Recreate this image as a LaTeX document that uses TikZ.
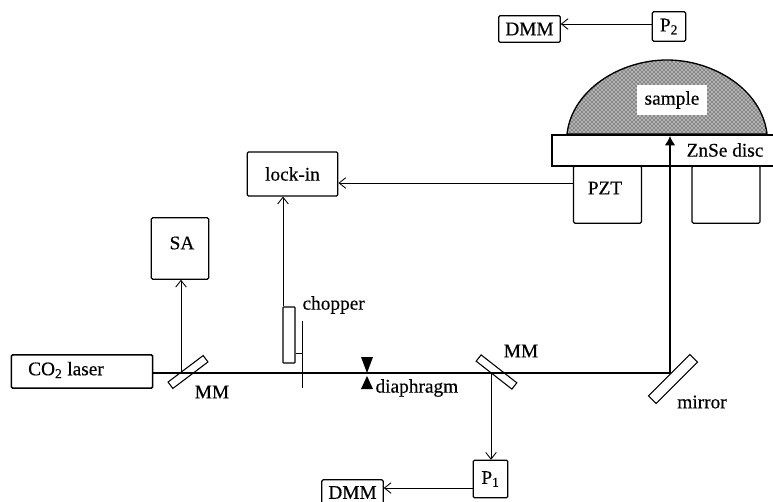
\documentclass[tikz,border=0pt]{standalone}
\usepackage{fontspec}
\setmainfont[FakeBold=0.4]{Liberation Serif}
\usetikzlibrary{patterns, arrows.meta}

\begin{document}
\begin{tikzpicture}[x=0.75pt, y=-0.75pt, >={Straight Barb[length=5pt, width=8pt]}, thick,
    every node/.style={font=\fontsize{14.5}{16}\selectfont},
    instr/.style={draw, rectangle, rounded corners=1pt, inner sep=0pt, line width=0.9pt},
    optic/.style={draw, rectangle, inner sep=0pt, minimum height=6pt},
    signal/.style={->, line width=0.65pt},
    beam/.style={line width=1.2pt}]
    \useasboundingbox (0,0) rectangle (773,502);

    % Sample dome
    \draw[preaction={fill=black!30}, pattern=crosshatch dots, line width=1pt] (567,134) .. controls (572,90) and (620,60) .. (667,60) .. controls (714,60) and (762,90) .. (767,134) -- cycle;
    \node[fill=white, minimum width=52pt, minimum height=22pt, inner sep=0pt] (sample) at (672,100) {sample};

    % ZnSe disc, open towards the right edge
    \draw[line width=1pt] (773,135) -- (552,135) -- (552,166) -- (773,166);
    \node (disc) at (725,150) {ZnSe disc};

    % PZT and its counterpart
    \node[instr, minimum width=51pt, minimum height=43pt] (pzt) at (607.5,194.5) {};
    \node (pzttext) at (605,188) {PZT};
    \node[instr, minimum width=51pt, minimum height=43pt] (support) at (726,194.5) {};

    % Detectors and meters
    \node[instr, minimum width=46pt, minimum height=20pt] (dmmtop) at (529.5,29) {DMM};
    \node[instr, minimum width=25pt, minimum height=22pt] (ptwo) at (669,26.5) {P\textsubscript{2}};
    \node[instr, minimum width=26pt, minimum height=28pt] (pone) at (490.5,479) {P\textsubscript{1}};
    \node[instr, minimum width=46pt, minimum height=19pt] (dmmlow) at (352.5,492.5) {DMM};

    % Instruments
    \node[instr, minimum width=43pt, minimum height=46pt] (sa) at (180,248.5) {};
    \node (satext) at (182,243) {SA};
    \node[instr, minimum width=68pt, minimum height=33pt] (lockin) at (292.5,174) {lock-in};
    \node[instr, minimum width=106pt, minimum height=25pt, line width=1.1pt] (laser) at (82,371.5) {};
    \node (lasertext) at (66,370) {CO\textsubscript{2} laser};

    % Beam splitters and mirror
    \node[optic, minimum width=33pt, rotate=37] (mmone) at (188,372) {};
    \node[optic, minimum width=34pt, rotate=-38] (mmtwo) at (496.5,372) {};
    \node[optic, minimum width=44pt, minimum height=8pt, rotate=45] (mirror) at (673,379) {};
    \node (mmonetext) at (212,392) {MM};
    \node (mmtwotext) at (521,351) {MM};
    \node (mirrortext) at (702,402) {mirror};

    % Chopper
    \node[draw, rectangle, rounded corners=0.5pt, inner sep=0pt, minimum width=9pt, minimum height=42pt] (blade) at (289,335) {};
    \coordinate (posttop) at (302,321);
    \coordinate (postlow) at (302,388);
    \draw[line width=0.6pt] (posttop) -- (postlow);
    \draw[line width=0.6pt] (blade.east |- 0,353) -- (302,353);
    \node[anchor=west, inner sep=0pt] (choppertext) at (302,305) {chopper};

    % Diaphragm
    \coordinate (irisA) at (367,373);
    \coordinate (irisB) at (367,376);
    \fill (irisA) -- (361,357) -- (373,357) -- cycle;
    \fill (irisB) -- (361,389) -- (373,389) -- cycle;
    \node[anchor=west, inner sep=0pt] (diaphragmtext) at (375,388) {diaphragm};

    % Main beam
    \coordinate (turn) at (670,373);
    \draw[line width=0.8pt] (laser.east |- turn) -- (302,373);
    \draw[beam] (302,373) -- (turn);
    \draw[beam, -{Latex[length=7pt, width=8pt]}] (turn) -- (670,136);

    % Signals
    \draw[signal] (181,373) -- (sa.south -| 181,0);
    \draw[signal] (blade.north -| 283,0) -- (lockin.south -| 283,0);
    \draw[signal] (pzt.west |- 0,183) -- (lockin.east |- 0,183);
    \draw[signal] (ptwo.west |- 0,24) -- (dmmtop.east |- 0,24);
    \draw[signal] (491,373) -- (pone.north -| 491,0);
    \draw[signal] (pone.west |- 0,488) -- (dmmlow.east |- 0,488);
\end{tikzpicture}
\end{document}
